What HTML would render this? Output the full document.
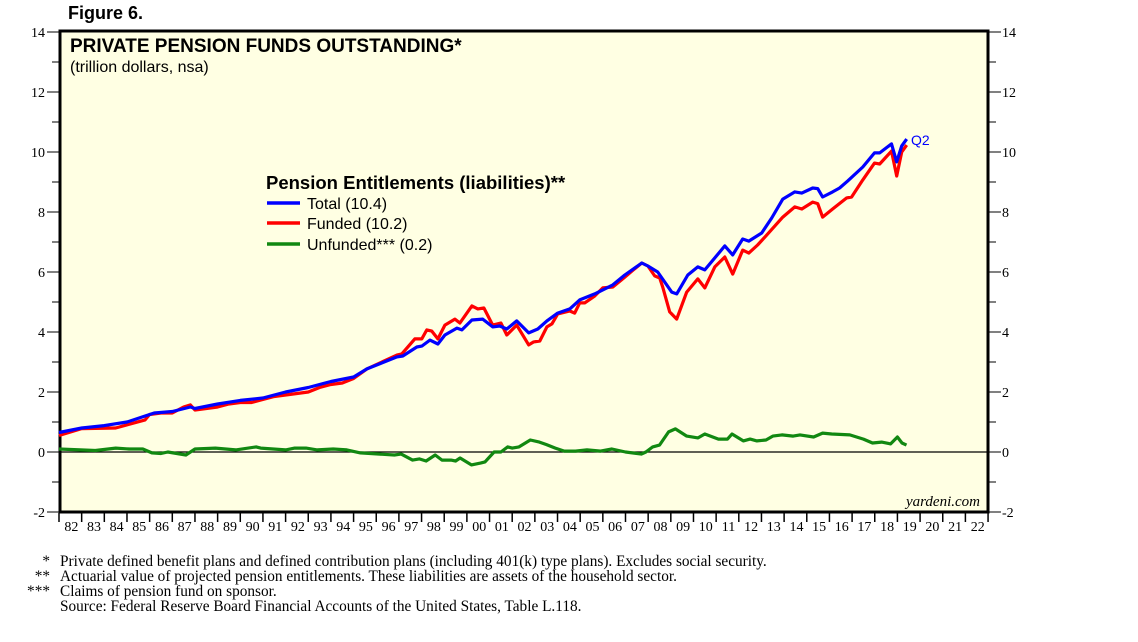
<!DOCTYPE html>
<html><head><meta charset="utf-8"><style>
body{margin:0;background:#fff;}
svg{display:block;}
.s{font-family:"Liberation Serif",serif;}
.a{font-family:"Liberation Sans",sans-serif;}
</style></head><body>
<svg id="chart" width="1138" height="642" viewBox="0 0 1138 642">
<text class="a" x="68" y="19" font-size="18" font-weight="bold">Figure 6.</text>
<rect x="60" y="31" width="928" height="481" fill="#ffffe3" stroke="#000" stroke-width="3"/>
<g id="axes"></g>
<g id="series"></g>
<text class="a" x="70" y="52" font-size="19" font-weight="bold">PRIVATE PENSION FUNDS OUTSTANDING*</text>
<text class="a" x="70" y="72" font-size="16">(trillion dollars, nsa)</text>
<g>
<text class="a" x="266" y="189" font-size="18.5" font-weight="bold">Pension Entitlements (liabilities)**</text>
<line x1="267" y1="203" x2="300" y2="203" stroke="#0000ff" stroke-width="3.5"/>
<text class="a" x="307" y="209" font-size="16">Total (10.4)</text>
<line x1="267" y1="223" x2="300" y2="223" stroke="#ff0000" stroke-width="3.5"/>
<text class="a" x="307" y="229" font-size="16">Funded (10.2)</text>
<line x1="267" y1="244" x2="300" y2="244" stroke="#118811" stroke-width="3.5"/>
<text class="a" x="307" y="250" font-size="16">Unfunded*** (0.2)</text>
</g>
<text class="a" x="911" y="145" font-size="14" fill="#0000ff">Q2</text>
<text class="s" x="980" y="506" font-size="15" font-style="italic" text-anchor="end">yardeni.com</text>
<g class="s" font-size="15.3">
<text x="50" y="566" text-anchor="end">*</text><text x="60" y="566">Private defined benefit plans and defined contribution plans (including 401(k) type plans). Excludes social security.</text>
<text x="50" y="581" text-anchor="end">**</text><text x="60" y="581">Actuarial value of projected pension entitlements. These liabilities are assets of the household sector.</text>
<text x="50" y="596" text-anchor="end">***</text><text x="60" y="596">Claims of pension fund on sponsor.</text>
<text x="60" y="611">Source: Federal Reserve Board Financial Accounts of the United States, Table L.118.</text>
</g>
</svg>
<script>
const yTicks=[-2,0,2,4,6,8,10,12,14];
const yearLabels=["82","83","84","85","86","87","88","89","90","91","92","93","94","95","96","97","98","99","00","01","02","03","04","05","06","07","08","09","10","11","12","13","14","15","16","17","18","19","20","21","22"];
const totalYears=[1982,1983,1984,1985,1985.8,1986.2,1987,1987.8,1988,1989,1990,1991,1992,1993,1994,1995,1995.59,1996.91,1997.17,1997.79,1998.01,1998.37,1998.72,1999.03,1999.56,1999.78,2000.22,2000.7,2001.14,2001.45,2001.76,2002.2,2002.73,2003.13,2003.53,2004.01,2004.54,2004.98,2005.64,2006.44,2006.97,2007.72,2007.99,2008.42,2009.04,2009.26,2009.75,2010.19,2010.5,2011.38,2011.73,2012.17,2012.44,2013.01,2013.45,2013.94,2014.47,2014.78,2015.26,2015.48,2015.7,2016.14,2016.45,2016.8,2017.47,2017.99,2018.22,2018.74,2018.97,2019.19,2019.41];
const totalValues=[0.65,0.8,0.88,1.0,1.2,1.3,1.35,1.5,1.45,1.6,1.72,1.8,2.0,2.15,2.35,2.5,2.77,3.17,3.2,3.5,3.53,3.73,3.6,3.9,4.13,4.07,4.4,4.43,4.17,4.2,4.1,4.37,3.97,4.1,4.37,4.63,4.77,5.07,5.27,5.57,5.9,6.3,6.2,6.0,5.33,5.27,5.9,6.17,6.07,6.87,6.57,7.1,7.03,7.3,7.8,8.43,8.67,8.63,8.8,8.78,8.5,8.67,8.8,9.03,9.5,9.97,9.97,10.27,9.67,10.2,10.43];
const fundedYears=[1982,1983,1984.5,1985.8,1986,1986.5,1987,1987.5,1987.8,1988,1989,1989.5,1990,1990.5,1991,1991.5,1992,1993,1993.5,1994,1994.5,1995,1995.59,1996.91,1997.13,1997.7,1998.01,1998.23,1998.45,1998.72,1999.03,1999.47,1999.69,2000.22,2000.48,2000.75,2001.14,2001.5,2001.76,2002.2,2002.73,2002.95,2003.22,2003.53,2003.75,2004.01,2004.54,2004.76,2004.98,2005.2,2005.64,2006.0,2006.44,2006.97,2007.28,2007.72,2007.99,2008.29,2008.51,2008.64,2008.95,2009.26,2009.7,2010.19,2010.5,2010.94,2011.38,2011.73,2012.17,2012.44,2012.83,2013.23,2013.94,2014.47,2014.78,2015.26,2015.48,2015.7,2016.14,2016.76,2016.98,2017.47,2017.99,2018.22,2018.74,2018.97,2019.19,2019.41];
const fundedValues=[0.55,0.78,0.8,1.07,1.25,1.3,1.3,1.5,1.57,1.4,1.5,1.6,1.65,1.65,1.75,1.85,1.9,2.0,2.15,2.25,2.3,2.45,2.77,3.23,3.27,3.77,3.77,4.07,4.03,3.77,4.23,4.43,4.3,4.87,4.77,4.8,4.23,4.3,3.9,4.23,3.57,3.67,3.7,4.17,4.27,4.6,4.7,4.63,4.97,4.97,5.2,5.47,5.5,5.83,6.03,6.3,6.2,5.87,5.8,5.5,4.67,4.43,5.33,5.77,5.47,6.17,6.5,5.93,6.73,6.63,6.9,7.23,7.83,8.17,8.1,8.33,8.28,7.83,8.1,8.47,8.5,9.07,9.63,9.6,10.03,9.2,10.0,10.23];
const unfundedYears=[1982,1983.6,1984.5,1985.1,1985.7,1986.1,1986.5,1986.8,1987.2,1987.6,1988.0,1988.9,1989.8,1990.7,1990.9,1992,1992.4,1992.9,1993.4,1994.1,1994.7,1995.3,1996.8,1997.1,1997.6,1997.9,1998.2,1998.6,1998.9,1999.3,1999.5,1999.7,2000.2,2000.6,2000.8,2001.2,2001.5,2001.8,2002.0,2002.3,2002.8,2003.2,2003.5,2003.9,2004.3,2004.8,2005.3,2005.9,2006.4,2007.0,2007.7,2007.9,2008.2,2008.5,2008.9,2009.2,2009.7,2010.2,2010.5,2011.1,2011.5,2011.7,2012.2,2012.5,2012.8,2013.2,2013.5,2013.9,2014.4,2014.7,2015.3,2015.7,2016.1,2016.9,2017.5,2017.9,2018.3,2018.7,2019.0,2019.2,2019.4];
const unfundedValues=[0.1,0.05,0.13,0.1,0.1,-0.03,-0.05,0.0,-0.05,-0.1,0.1,0.13,0.07,0.17,0.13,0.07,0.13,0.13,0.07,0.1,0.07,-0.03,-0.1,-0.07,-0.27,-0.23,-0.3,-0.1,-0.27,-0.27,-0.3,-0.2,-0.43,-0.37,-0.33,0.0,0.0,0.17,0.13,0.17,0.4,0.33,0.25,0.13,0.03,0.03,0.07,0.03,0.1,0.0,-0.07,0.0,0.17,0.23,0.67,0.77,0.53,0.47,0.6,0.43,0.43,0.6,0.37,0.43,0.37,0.4,0.53,0.57,0.53,0.57,0.5,0.63,0.6,0.57,0.43,0.3,0.33,0.27,0.5,0.3,0.23];

const NS="http://www.w3.org/2000/svg";
const X0=59,YW=22.66,Y0=452,YU=30;
function xs(yr){return X0+(yr-1982)*YW;}
function ys(v){return Y0-v*YU;}
function mk(tag,attrs,parent){const e=document.createElementNS(NS,tag);for(const k in attrs)e.setAttribute(k,attrs[k]);parent.appendChild(e);return e;}
const axes=document.getElementById('axes');
for(let v=-2;v<=14;v++){
  const y=ys(v);const major=v%2===0;
  const tl=mk('line',{x1:major?47:52,x2:59,y1:y,y2:y,stroke:'#000','stroke-width':1},axes);
  
  
  const tr=mk('line',{x1:989,x2:major?1001:996,y1:y,y2:y,stroke:'#000','stroke-width':1},axes);
  
  
}
yTicks.forEach(v=>{
  const y=ys(v);
  const a=mk('text',{x:45,y:y+5,'text-anchor':'end','font-size':14,class:'s'},axes);a.textContent=v;
  
  
  const b=mk('text',{x:1002,y:y+5,'font-size':14,class:'s'},axes);b.textContent=v;
  
  
});
const zl=mk('line',{x1:61,x2:987,y1:ys(0),y2:ys(0),stroke:'#000','stroke-width':1.2},axes);


yearLabels.forEach((lab,i)=>{
  const x=xs(1982+i);
  const t=mk('line',{x1:x,x2:x,y1:513,y2:522,stroke:'#000','stroke-width':1.5},axes);
  
  
  const tx=mk('text',{x:x+YW/2+1,y:531,'text-anchor':'middle','font-size':14,class:'s'},axes);tx.textContent=lab;
  
  
});
const et=mk('line',{x1:xs(2023),x2:xs(2023),y1:513,y2:522,stroke:'#000','stroke-width':1.5},axes);


const ser=document.getElementById('series');
function line(yrs,vals,color,name){
  const d=yrs.map((y,i)=>(i?'L':'M')+xs(y).toFixed(1)+','+ys(vals[i]).toFixed(1)).join('');
  const p=mk('path',{d:d,fill:'none',stroke:color,'stroke-width':3.2,'stroke-linejoin':'round'},ser);
  
  
}
line(unfundedYears,unfundedValues,'#118811','unfunded-line');
line(fundedYears,fundedValues,'#ff0000','funded-line');
line(totalYears,totalValues,'#0000ff','total-line');
</script>
</body></html>
